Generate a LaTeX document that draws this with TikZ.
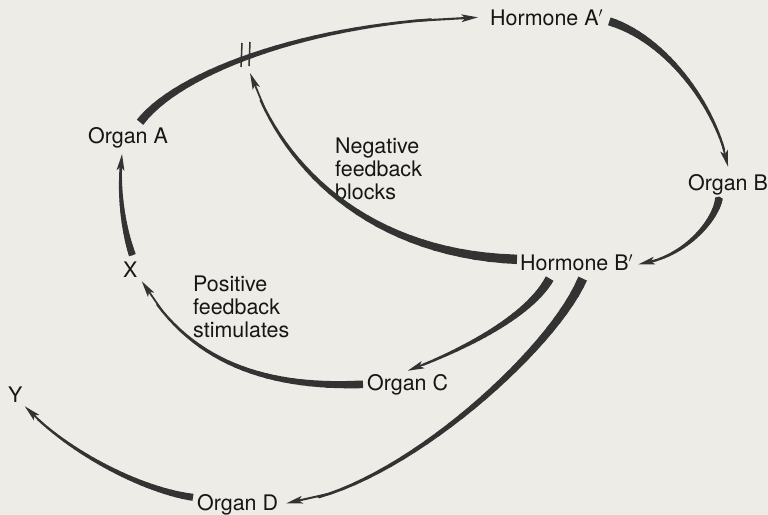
\documentclass[tikz,border=0pt]{standalone}
\usepackage{fontspec}
\setmainfont{TeX Gyre Heros}
\usetikzlibrary{arrows.meta,calc}
\definecolor{paper}{HTML}{EDECE6}
\definecolor{ink}{HTML}{333333}
\definecolor{txt}{HTML}{161616}

% tapered arrow: start, control 1, control 2, end, max width, min width (pt)
\newcommand\taper[6]{%
  \path (#1) .. controls (#2) and (#3) .. (#4)
    foreach \k in {0,...,30} {coordinate[pos=\k/30] (tp\k)};
  \draw[ink, line width=#5pt, line cap=butt] (tp0) -- (tp1);
  \foreach \k [evaluate=\k as \j using int(\k+1)] in {1,...,26} {
    \pgfmathsetmacro\w{#6+(#5-#6)*(1-\k/30)^1.3}
    \draw[ink, line width=\w pt, line cap=round] (tp\k) -- (tp\j);
  }
  \draw[ink, line width=#6pt, -{Stealth[length=14pt,width=6.5pt,inset=3pt]}] (tp26) -- (tp30);
}

\begin{document}
\begin{tikzpicture}[x=0.3mm, y=-0.3mm,
  lbl/.style={inner sep=0pt, text=txt, font=\fontsize{18.3}{19.6}\selectfont}]
\fill[paper] (0,0) rectangle (768,515);
\useasboundingbox (0,0) rectangle (768,515);
% labels
\node[lbl, anchor=base west] (horA) at (490,25) {Hormone A$'$};
\node[lbl, anchor=base west] (orgB) at (688,190) {Organ B};
\node[lbl, anchor=base west] (horB) at (520,270) {Hormone B$'$};
\node[lbl, anchor=base west] (orgA) at (88,143) {Organ A};
\node[lbl, anchor=base west] (ptX) at (123,277) {X};
\node[lbl, anchor=base west] (orgC) at (367,390) {Organ C};
\node[lbl, anchor=base west] (orgD) at (197,510) {Organ D};
\node[lbl, anchor=base west] (ptY) at (8,402) {Y};
\node[lbl, anchor=north west, align=left] (negfb) at (335,138) {Negative\\feedback\\blocks};
\node[lbl, anchor=north west, align=left] (posfb) at (193,276) {Positive\\feedback\\stimulates};
\coordinate (blk) at (250,73);
% main loop
\taper{[shift={(12,-4.5)}]orgA.north}{180,70}{320,20}{[shift={(-12,0)}]horA.west}{7}{1.8}
\taper{[shift={(6,4)}]horA.east}{669,40}{719,112}{[shift={(0,-7)}]orgB.north}{7}{1.5}
\taper{[shift={(-9,3)}]orgB.south}{716,220}{685,258}{[shift={(5,2)}]horB.east}{6.5}{1.5}
% feedback
\taper{[shift={(-3,-3)}]horB.west}{367,254}{280,165}{blk}{8}{1.5}
\draw[ink, line width=1.3pt] ($(blk)+(-8,-30)$) -- ($(blk)+(-9,-6)$);
\draw[ink, line width=1.3pt] ($(blk)+(0,-31)$) -- ($(blk)+(-1,-7)$);
\taper{[shift={(-27,8)}]horB.south}{528,318}{458,352}{[shift={(0,-3)}]orgC.north}{7.5}{1.5}
\taper{[shift={(6,8)}]horB.south}{550,355}{390,495}{[shift={(8,-1)}]orgD.east}{8}{1.7}
\taper{[shift={(-4,0)}]orgC.west}{270,388}{190,365}{[shift={(4,4)}]ptX.south east}{6.5}{1.5}
\taper{[shift={(2,-6)}]ptX.north}{122,225}{118,185}{[shift={(-6,6)}]orgA.south}{6}{1.8}
\taper{[shift={(-4,-7)}]orgD.west}{140,490}{65,450}{[shift={(2,4)}]ptY.south east}{6}{1.5}
\end{tikzpicture}
\end{document}
